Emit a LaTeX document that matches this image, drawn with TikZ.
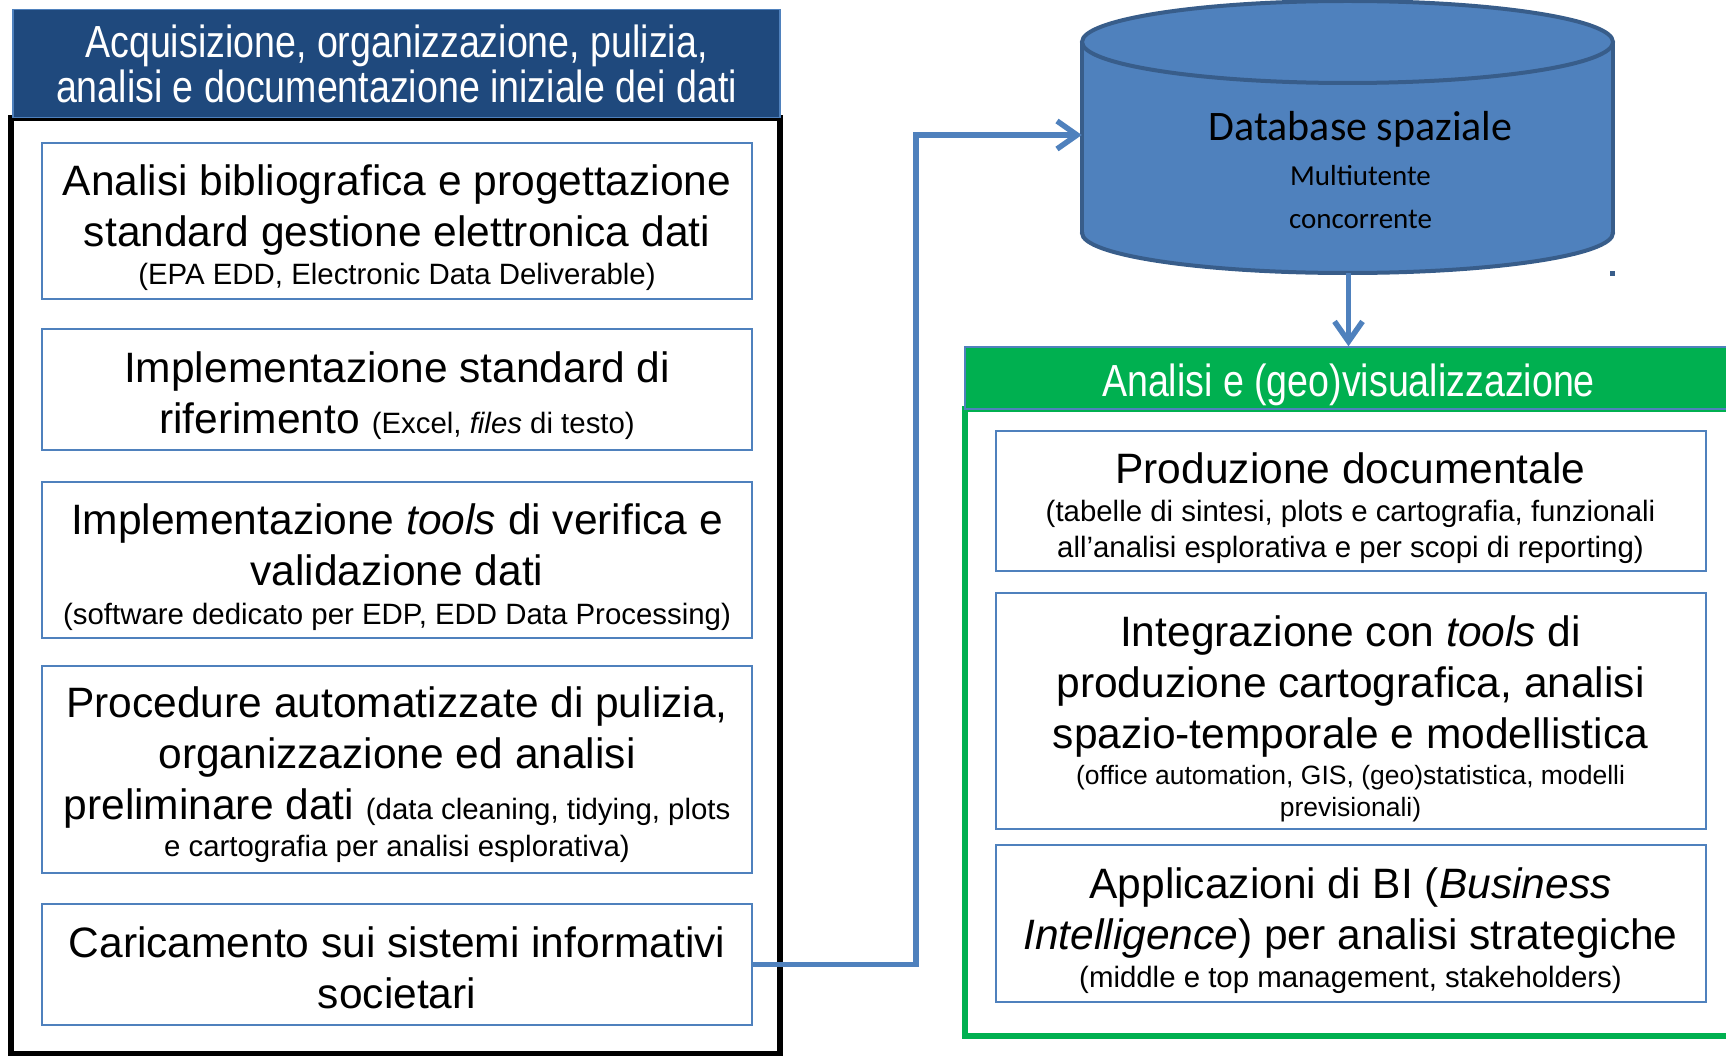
\documentclass[tikz,border=0pt]{standalone}
\usepackage{fontspec}
\setmainfont{Liberation Sans}
\newfontfamily\narrowfont[FakeStretch=0.835]{Liberation Sans}
\newfontfamily\dbfont{Carlito}
\usetikzlibrary{arrows.meta}
\definecolor{hdrblue}{RGB}{31,73,125}
\definecolor{boxblue}{RGB}{79,129,189}
\definecolor{dbedge}{RGB}{56,93,138}
\definecolor{geogreen}{RGB}{0,176,80}
\newcommand\sm[2][29.4]{{\fontsize{#1}{34}\selectfont #2}}
\newcommand\dbsm[1]{{\fontsize{29}{34}\selectfont #1}}
\tikzset{
  head/.style={draw=boxblue,fill=#1,line width=1.5pt,text=white,align=flush center,
    font=\narrowfont\fontsize{45}{45}\selectfont,inner sep=0pt},
  stage/.style={draw=#1,line width=6pt,inner sep=0pt},
  task/.style={draw=boxblue,fill=white,line width=2pt,align=flush center,text width=700pt,
    inner sep=5pt,minimum width=710pt,font=\fontsize{42.5}{51}\selectfont},
  firstline/.style={text height=0pt,text depth=#1},
  link/.style={-{Straight Barb[length=20pt,width=28pt]},draw=boxblue,line width=5.5pt},
}

\begin{document}
\begin{tikzpicture}[x=1pt,y=-1pt]
  \useasboundingbox (0,0) rectangle (1726,1056);

  % frames
  \node[stage=black,minimum width=769pt,minimum height=936pt] (prep) at (395.5,586) {};
  \node[stage=geogreen,minimum width=767pt,minimum height=627pt] (geo) at (1348.5,722.5) {};

  % headers
  \node[head=hdrblue,minimum width=767pt,minimum height=108pt] (prephead) at (396.5,63.5)
    {Acquisizione, organizzazione, pulizia,\\analisi e documentazione iniziale dei dati};
  \node[head=geogreen,minimum width=767pt,minimum height=62pt,text height=37pt,text depth=0pt]
    (geohead) at (1348.5,378) {Analisi e (geo)visualizzazione};

  % database cylinder
  \fill[boxblue] (1082,42) rectangle (1613,233);
  \fill[boxblue] (1347.5,233) ellipse [x radius=265.5, y radius=40];
  \begin{scope}
    \clip (1070,233) rectangle (1630,290);
    \draw[dbedge,line width=4pt] (1347.5,233) ellipse [x radius=265.5, y radius=40];
  \end{scope}
  \draw[dbedge,line width=4pt] (1082,42) -- (1082,233) (1613,42) -- (1613,233);
  \filldraw[fill=boxblue,draw=dbedge,line width=4pt] (1347.5,42) ellipse [x radius=265.5, y radius=41];
  \fill[dbedge] (1609.5,271.5) rectangle (1614.5,276.5);
  \node[font=\dbfont\fontsize{42}{45}\selectfont,align=flush center,text width=500pt,
    minimum width=557pt,minimum height=276pt,inner sep=0pt,text height=12pt,text depth=0pt]
    (db) at (1360.5,135) {Database spaziale\\\dbsm{Multiutente}\\[-2pt]\dbsm{concorrente}};

  % left column
  \node[task,minimum height=156pt,firstline=51pt] (biblio) at (397,221)
    {Analisi bibliografica e progettazione\\standard gestione elettronica dati\\[-12.5pt]
     \sm{(EPA EDD, Electronic Data Deliverable)}};
  \node[task,minimum height=121pt,firstline=15pt] (refstd) at (397,389.5)
    {Implementazione standard di\\riferimento \sm{(Excel, \emph{files} di testo)}};
  \node[task,minimum height=156pt,firstline=51pt] (check) at (397,560)
    {Implementazione \emph{tools} di verifica e\\validazione dati\\[-12.5pt]
     \sm{(software dedicato per EDP, EDD Data Processing)}};
  \node[task,minimum height=207pt,firstline=104pt] (clean) at (397,769.5)
    {Procedure automatizzate di pulizia,\\organizzazione ed analisi\\
     preliminare dati \sm{(data cleaning, tidying, plots}\\[-14.5pt]
     \sm{e cartografia per analisi esplorativa)}};
  \node[task,minimum height=121pt,firstline=15pt] (upload) at (397,964.5)
    {Caricamento sui sistemi informativi\\societari};

  % right column
  \node[task,minimum height=140pt,firstline=35pt] (docs) at (1350.5,501)
    {Produzione documentale\\[-13.5pt]
     \sm{(tabelle di sintesi, plots e cartografia, funzionali}\\[-15pt]
     \sm{all'analisi esplorativa e per scopi di reporting)}};
  \node[task,minimum height=236pt,firstline=129pt] (carto) at (1350.5,711)
    {Integrazione con \emph{tools} di\\produzione cartografica, analisi\\
     spazio-temporale e modellistica\\[-15.5pt]
     \sm[26.5]{(office automation, GIS, (geo)statistica, modelli}\\[-19pt]
     \sm[26.5]{previsionali)}};
  \node[task,minimum height=157pt,firstline=50pt] (bi) at (1350.5,923.5)
    {Applicazioni di BI (\emph{Business}\\\emph{Intelligence}) per analisi strategiche\\[-13.5pt]
     \sm{(middle e top management, stakeholders)}};

  % connectors
  \coordinate (turn) at (916,500);
  \draw[link] (upload.east) -| (turn) |- (db.west);
  \draw[link] (db.south -| geohead.north) -- (geohead.north);
\end{tikzpicture}
\end{document}
